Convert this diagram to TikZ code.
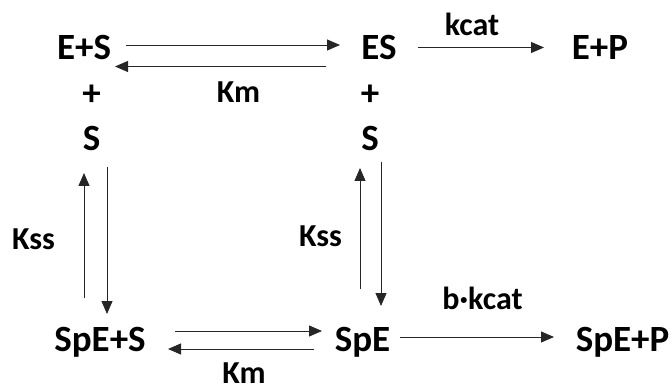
\documentclass[tikz,border=0pt]{standalone}
\usepackage{fontspec}
\setmainfont{Carlito}
\usetikzlibrary{arrows.meta}
\begin{document}
\begin{tikzpicture}[x=1pt,y=1pt,
  big/.style={font=\fontsize{37}{42}\selectfont\bfseries, inner sep=0pt, anchor=base},
  plus/.style={font=\fontsize{37}{42}\selectfont\bfseries, inner sep=0pt, anchor=center},
  lab/.style={font=\fontsize{32}{36}\selectfont\bfseries, inner sep=0pt, anchor=base},
  arr/.style={-{Triangle[length=13pt,width=11pt]}, line width=0.9pt, draw=black!85}]
\useasboundingbox (0,0) rectangle (672,-390);
% species
\node[big] (ES1) at (84,-60) {E+S};
\node[big] (ES2) at (379,-60) {ES};
\node[big] (EP) at (600,-60) {E+P};
\node[plus] (p1) at (91.5,-95.5) {+};
\node[plus] (p2) at (370,-95.5) {+};
\node[big] (S1) at (91.5,-151) {S};
\node[big] (S2) at (370,-151) {S};
\node[big] (SpES) at (100,-351) {SpE+S};
\node[big] (SpE) at (362.5,-351) {SpE};
\node[big] (SpEP) at (622.5,-351) {SpE+P};
% labels
\node[lab] (km1) at (238.5,-103) {Km};
\node[lab] (kcat) at (472,-36) {kcat};
\node[lab] (kss1) at (33.5,-249) {Kss};
\node[lab] (kss2) at (320.5,-247) {Kss};
\node[lab] (bk) at (482.5,-309) {b·kcat};
\node[lab] (km2) at (244,-383.5) {Km};
% arrow end points
\coordinate (a1s) at (126,-45);   \coordinate (a1e) at (340,-45);
\coordinate (a2s) at (326,-66.5); \coordinate (a2e) at (115,-66.5);
\coordinate (a3s) at (418,-47.5); \coordinate (a3e) at (544,-47.5);
\coordinate (l1s) at (84,-298);   \coordinate (l1e) at (84,-173);
\coordinate (l2s) at (107,-167);  \coordinate (l2e) at (107,-314);
\coordinate (r1s) at (360,-289);  \coordinate (r1e) at (360,-168);
\coordinate (r2s) at (381,-162);  \coordinate (r2e) at (381,-306);
\coordinate (b1s) at (175,-331);  \coordinate (b1e) at (322,-331);
\coordinate (b2s) at (314,-349);  \coordinate (b2e) at (168,-349);
\coordinate (b3s) at (400,-337);  \coordinate (b3e) at (554,-337);
% arrows
\draw[arr] (a1s) -- (a1e);
\draw[arr] (a2s) -- (a2e);
\draw[arr] (a3s) -- (a3e);
\draw[arr] (l1s) -- (l1e);
\draw[arr] (l2s) -- (l2e);
\draw[arr] (r1s) -- (r1e);
\draw[arr] (r2s) -- (r2e);
\draw[arr] (b1s) -- (b1e);
\draw[arr] (b2s) -- (b2e);
\draw[arr] (b3s) -- (b3e);
\end{tikzpicture}
\end{document}
